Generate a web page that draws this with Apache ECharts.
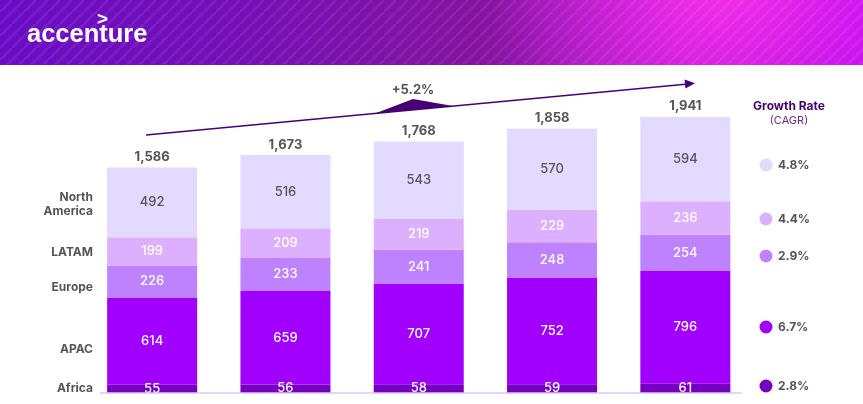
<!DOCTYPE html>
<html>
<head>
<meta charset="utf-8">
<script src="https://cdn.jsdelivr.net/npm/echarts@6/dist/echarts.min.js"></script>
<style>
html,body{margin:0;padding:0;background:#fff;}
#c{width:863px;height:404px;}
</style>
</head>
<body>
<div id="c"></div>
<script>
const categories = ['2023','2024','2025','2026','2027'];
const northAmerica = [492, 516, 543, 570, 594];
const latam = [199, 209, 219, 229, 236];
const europe = [226, 233, 241, 248, 254];
const apac = [614, 659, 707, 752, 796];
const africa = [55, 56, 58, 59, 61];
const totals = [1586, 1673, 1768, 1858, 1941];
const regionNames = ['North\nAmerica', 'LATAM', 'Europe', 'APAC', 'Africa'];
const cagrLabels = ['4.8%', '4.4%', '2.9%', '6.7%', '2.8%'];
const overallCagr = '+5.2%';

const colors = {
  na: '#E3DAFF', latam: '#DCB0FF', europe: '#BE82FF', apac: '#A100FF', africa: '#7500C0'
};
const FONT = 'Inter, "Noto Sans", sans-serif';
const grey = '#555555';

function fmt(n){ return n.toLocaleString('en-US'); }

const chart = echarts.init(document.getElementById('c'), null, {renderer:'canvas'});

// stripe pattern for header
const pc = document.createElement('canvas');
pc.width = 12; pc.height = 12;
const px = pc.getContext('2d');
px.strokeStyle = 'rgba(255,255,255,0.07)';
px.lineWidth = 3;
for (let k = -1; k <= 1; k++) {
  px.beginPath();
  px.moveTo(k*12, 12); px.lineTo(k*12 + 12, 0);
  px.stroke();
}

function seg(name, data, color, labelColor) {
  return {
    name, type: 'bar', stack: 'total', data, barWidth: 90,
    itemStyle: { color },
    label: { show: true, position: 'inside', color: labelColor, fontFamily: FONT, fontSize: 13, fontWeight: 500 },
    emphasis: { disabled: true }
  };
}

const option = {
  animation: false,
  grid: { left: 85.5, right: 111, top: 108.7, bottom: 11.5 },
  xAxis: { type: 'category', data: categories, show: false },
  yAxis: { type: 'value', min: 0, max: 2000, show: false },
  series: [
    seg('Africa', africa, colors.africa, '#ffffff'),
    seg('APAC', apac, colors.apac, '#ffffff'),
    seg('Europe', europe, colors.europe, '#ffffff'),
    seg('LATAM', latam, colors.latam, '#ffffff'),
    seg('North America', northAmerica, colors.na, grey),
    {
      name: 'total', type: 'bar', stack: 'total', barWidth: 90,
      data: totals.map(() => 0),
      itemStyle: { color: 'transparent' },
      label: {
        show: true, position: 'top', distance: 4,
        formatter: p => fmt(totals[p.dataIndex]),
        color: grey, fontFamily: FONT, fontSize: 13, fontWeight: 'bold'
      }
    }
  ]
};
chart.setOption(option);

const base = chart.convertToPixel({gridIndex:0}, [0, 0]);
const g = [];
// header
g.push({ type:'rect', z:0, shape:{x:0,y:0,width:863,height:65},
  style:{ fill: new echarts.graphic.LinearGradient(0,0,1,0,[
    {offset:0,color:'#6A0CC6'},{offset:0.3,color:'#760FB4'},{offset:0.55,color:'#84139E'},
    {offset:0.78,color:'#B41AD0'},{offset:1,color:'#BE0CF4'}]) }});
g.push({ type:'rect', z:1, shape:{x:0,y:0,width:863,height:65},
  style:{ fill: new echarts.graphic.RadialGradient(720,-30,230,[
    {offset:0,color:'rgba(255,50,235,0.95)'},{offset:0.5,color:'rgba(240,40,235,0.5)'},{offset:1,color:'rgba(230,40,235,0)'}], true) }});
g.push({ type:'rect', z:2, shape:{x:0,y:0,width:863,height:65},
  style:{ fill: {image: pc, repeat:'repeat'} }});
g.push({ type:'text', z:3, left:27, top:22, style:{ text:'accenture', fill:'#fff', font:'bold 25.5px "Liberation Sans", Arial, sans-serif' }});
g.push({ type:'text', z:3, left:97, top:10, style:{ text:'>', fill:'#fff', font:'bold 19px "Liberation Sans", Arial, sans-serif' }});

// baseline
g.push({ type:'line', shape:{x1:100,y1:base[1]+0.5,x2:742,y2:base[1]+0.5}, style:{stroke:'#D2A8F2', lineWidth:1}, z:10});

// overall growth arrow
const dark = '#460073';
g.push({ type:'line', shape:{x1:146,y1:135,x2:688,y2:84}, style:{stroke:dark, lineWidth:1.3}});
g.push({ type:'polygon', shape:{points:[[695,83.2],[685.4,88.6],[684.6,79.6]]}, style:{fill:dark}});
g.push({ type:'polygon', shape:{points:[[375,113.4],[413,99],[453,106]]}, style:{fill:dark}});
g.push({ type:'text', x:413, y:90, style:{ text:overallCagr, fill:grey, font:'bold 13px '+FONT, align:'center', verticalAlign:'middle' }});

// left region labels
const leftY = [204, 252, 287, 349, 388];
regionNames.forEach((t,i)=>{
  g.push({ type:'text', x:93, y:leftY[i], style:{ text:t, fill:grey, font:'bold 12px '+FONT, align:'right', verticalAlign:'middle', lineHeight:14 }});
});

// right legend
g.push({ type:'text', x:789, y:106, style:{ text:'Growth Rate', fill:dark, font:'bold 12px '+FONT, align:'center', verticalAlign:'middle' }});
g.push({ type:'text', x:789, y:121, style:{ text:'(CAGR)', fill:'#6A2A96', font:'11px '+FONT, align:'center', verticalAlign:'middle' }});
const legY = [165, 219, 256, 327, 386];
const legC = [colors.na, colors.latam, colors.europe, colors.apac, colors.africa];
cagrLabels.forEach((t,i)=>{
  g.push({ type:'circle', shape:{cx:766, cy:legY[i], r:6.5}, style:{fill:legC[i]}});
  g.push({ type:'text', x:778, y:legY[i], style:{ text:t, fill:grey, font:'bold 12px '+FONT, align:'left', verticalAlign:'middle' }});
});

chart.setOption({ graphic: g });
</script>
</body>
</html>
